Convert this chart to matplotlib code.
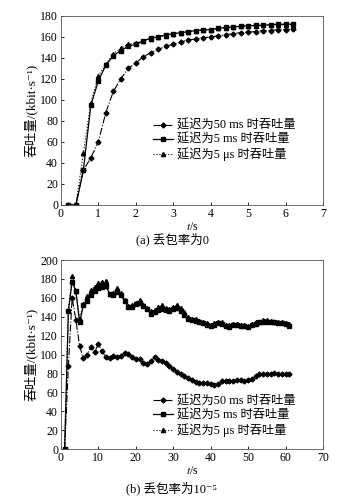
import matplotlib
matplotlib.use("Agg")
import matplotlib.pyplot as plt

plt.rcParams['font.family'] = ['Liberation Serif', 'Noto Sans CJK SC', 'DejaVu Sans']
plt.rcParams['mathtext.fontset'] = 'stix'

# (a) loss rate 0
t_a = [0.2, 0.4, 0.6, 0.8, 1.0, 1.2, 1.4, 1.6, 1.8, 2.0, 2.2, 2.4, 2.6, 2.8, 3.0, 3.2,
       3.4, 3.6, 3.8, 4.0, 4.2, 4.4, 4.6, 4.8, 5.0, 5.2, 5.4, 5.6, 5.8, 6.0, 6.2]
a_50ms = [0, 0, 33, 45, 60, 88, 108, 120, 130, 135, 141, 145, 148, 151, 153, 155,
          157, 158, 159, 160, 161, 162, 163, 164, 164.5, 165, 166, 166, 167, 167, 167.5]
a_5ms = [0, 0, 33, 95, 118, 133, 142, 147, 151, 153, 156, 159, 160, 162, 163, 164,
         165, 166, 166.5, 167, 168, 169, 169.5, 170, 170.5, 171, 171, 171.5, 172, 172, 172]
a_5us = [0, 0, 49, 97, 123, 134, 144, 149, 153, 154, 156, 158, 160, 161, 162.5, 164,
         165, 166, 166.5, 167, 168, 168.5, 169, 170, 170.5, 170.5, 171, 171, 171.5, 171.5, 171.5]

# (b) loss rate 1e-5
t_b = list(range(1, 62))
b_50ms = [0, 88, 160, 137, 109, 96, 100, 108, 103, 111, 104, 97, 96, 99, 98, 99, 102, 101,
          98, 95, 95, 91, 90, 93, 97, 94, 93, 91, 88, 85, 82, 80, 77, 75, 73, 71, 70, 70,
          70, 69, 68, 69, 72, 72, 72, 72, 73, 73, 72, 73, 74, 77, 79, 80, 80, 80, 81, 80,
          80, 79, 80]
b_5ms = [0, 146, 177, 167, 134, 152, 157, 163, 167, 170, 172, 173, 164, 163, 166, 163, 157,
         150, 150, 153, 155, 151, 148, 143, 145, 147, 148, 147, 146, 148, 149, 146, 142, 138,
         137, 136, 134, 133, 131, 130, 131, 133, 132, 130, 129, 131, 131, 130, 130, 129, 131,
         132, 134, 135, 135, 134, 134, 133, 133, 132, 130]
b_5us = [0, 147, 183, 167, 138, 154, 162, 168, 172, 176, 177, 178, 164, 165, 170, 165, 158,
         151, 152, 155, 158, 152, 149, 146, 147, 150, 152, 149, 148, 150, 152, 149, 145, 140,
         138, 138, 136, 134, 133, 131, 133, 135, 134, 131, 131, 132, 132, 131, 131, 130, 132,
         134, 135, 137, 137, 136, 135, 135, 135, 133, 132]

labels = ['延迟为50 ms 时吞吐量', '延迟为5 ms 时吞吐量', '延迟为5 μs 时吞吐量']
ylabel = '吞吐量/(kbit·s⁻¹)'

fig = plt.figure(figsize=(3.44, 5.03), dpi=100)
ax1 = fig.add_axes([0.177, 0.5925, 0.762, 0.376])
ax2 = fig.add_axes([0.177, 0.107, 0.762, 0.376])

def draw(ax, x, s1, s2, s3, xmax, ymax, step):
    ax.plot(x, s1, color='black', lw=0.8, ls='-.', marker='D', ms=2.5, label=labels[0])
    ax.plot(x, s2, color='black', lw=0.9, ls='-', marker='s', ms=3, label=labels[1])
    ax.plot(x, s3, color='black', lw=0.8, ls=':', marker='^', ms=3, label=labels[2])
    ax.set_xlim(0, xmax)
    ax.set_ylim(0, ymax)
    ax.set_yticks(range(0, ymax + 1, step))
    ax.tick_params(direction='in', labelsize=8.5, length=2.5, width=0.6, pad=2)
    for sp in ax.spines.values():
        sp.set_linewidth(0.6)
        sp.set_color('#555555')
    ax.set_xlabel('$t$/s', fontsize=8.5, labelpad=1)
    ax.set_ylabel(ylabel, fontsize=9.5, labelpad=2)

draw(ax1, t_a, a_50ms, a_5ms, a_5us, 7, 180, 20)
ax1.legend(loc='center right', bbox_to_anchor=(0.93, 0.34), frameon=False, fontsize=8.8,
           handlelength=1.6, handletextpad=0.4, labelspacing=0.15, borderpad=0.2)
draw(ax2, t_b, b_50ms, b_5ms, b_5us, 70, 200, 20)
ax2.legend(loc='lower right', bbox_to_anchor=(0.93, 0.02), frameon=False, fontsize=8.8,
           handlelength=1.6, handletextpad=0.4, labelspacing=0.15, borderpad=0.2)

fig.text(0.5, 0.525, '(a) 丢包率为0', ha='center', va='center', fontsize=9)
fig.text(0.5, 0.028, '(b) 丢包率为10⁻⁵', ha='center', va='center', fontsize=9)

fig.savefig('out.png', dpi=100)
